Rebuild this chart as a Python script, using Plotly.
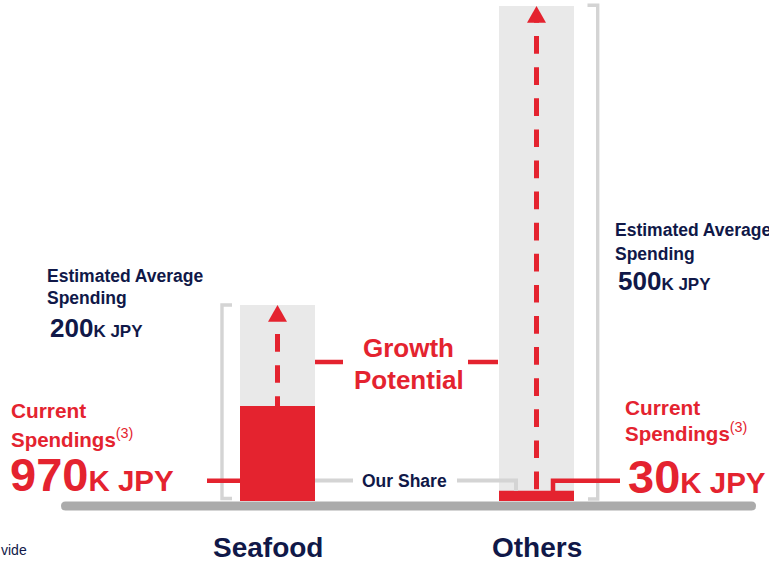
import plotly.graph_objects as go

# ---------------- data ----------------
categories = ["Seafood", "Others"]
estimated_labels = ["200", "500"]          # Estimated Average Spending (K JPY)
potential_height = [198, 500]              # grey bar heights as drawn
current_height = [96, 10.4]                # red bar heights as drawn
current_labels = ["970", "30"]             # Current Spendings (K JPY)

# ---------------- layout constants ----------------
W, H = 769, 563
FONT = "Liberation Sans, Arial, Helvetica, sans-serif"
NAVY = "#101848"
RED = "#e4232f"
BAR_GREY = "#e9e9e9"
LINE_GREY = "#d4d4d4"
BASE_GREY = "#ababab"

PX_PER_UNIT = 0.99        # vertical pixels per value unit
BASE_PX = 501             # pixel row of the value 0
X_UNIT_PX = 259           # pixels between category centres
FIRST_CENTER_PX = 277.5
BAR_W_PX = 75

xr = [-FIRST_CENTER_PX / X_UNIT_PX, (W - FIRST_CENTER_PX) / X_UNIT_PX]
yr = [-(H - BASE_PX) / PX_PER_UNIT, BASE_PX / PX_PER_UNIT]
xpos = list(range(len(categories)))


def px(x):
    return x / W


def py(y):
    return 1 - y / H


fig = go.Figure()

# grey "potential" bars
fig.add_trace(go.Bar(x=xpos, y=potential_height, width=BAR_W_PX / X_UNIT_PX,
                     marker=dict(color=BAR_GREY, line=dict(width=0)),
                     hoverinfo="skip", showlegend=False))
# red "current" bars
fig.add_trace(go.Bar(x=xpos, y=current_height, width=BAR_W_PX / X_UNIT_PX,
                     marker=dict(color=RED, line=dict(width=0)),
                     hoverinfo="skip", showlegend=False))

# dashed growth arrows
dash_start_offset_px = [-8, 1.5]
head_h = 16.7 / PX_PER_UNIT
head_hw = 9.5 / X_UNIT_PX
for i in xpos:
    start = current_height[i] + dash_start_offset_px[i] / PX_PER_UNIT
    head_base = potential_height[i] - head_h
    fig.add_trace(go.Scatter(x=[i, i], y=[start, head_base + 1],
                             mode="lines",
                             line=dict(color=RED, width=5, dash="17.7px,13.4px"),
                             hoverinfo="skip", showlegend=False))
    fig.add_trace(go.Scatter(x=[i - head_hw, i + head_hw, i, i - head_hw],
                             y=[head_base, head_base, potential_height[i], head_base],
                             mode="lines", fill="toself", fillcolor=RED,
                             line=dict(width=0, color=RED),
                             hoverinfo="skip", showlegend=False))

shapes = []


def seg(points, color, width):
    d = "M " + " L ".join(f"{px(a)},{py(b)}" for a, b in points)
    shapes.append(dict(type="path", path=d, xref="paper", yref="paper",
                       line=dict(color=color, width=width), layer="above"))


# brackets
seg([(232, 305), (222, 305), (222, 498.5), (232, 498.5)], LINE_GREY, 3.4)
seg([(587.5, 5.3), (597.7, 5.3), (597.7, 499), (588, 499)], LINE_GREY, 3.4)

# growth potential connectors
seg([(315, 362), (343, 362)], RED, 4.5)
seg([(468, 362), (498, 362)], RED, 4.5)

# our share connectors
seg([(315, 480.5), (353, 480.5)], LINE_GREY, 4)
seg([(457, 480.5), (516, 480.5), (516, 491)], LINE_GREY, 4)

# current spending connectors
seg([(207, 480.7), (240, 480.7)], RED, 4.5)
seg([(553, 491), (553, 480.7), (620, 480.7)], RED, 4.5)

# baseline (rounded)
x0, x1, y0, y1, r = 61, 756, 501.5, 510.5, 4.5
bpath = (f"M {px(x0 + r)},{py(y0)} L {px(x1 - r)},{py(y0)} "
         f"Q {px(x1)},{py(y0)} {px(x1)},{py(y0 + r)} "
         f"Q {px(x1)},{py(y1)} {px(x1 - r)},{py(y1)} "
         f"L {px(x0 + r)},{py(y1)} "
         f"Q {px(x0)},{py(y1)} {px(x0)},{py(y0 + r)} "
         f"Q {px(x0)},{py(y0)} {px(x0 + r)},{py(y0)} Z")
shapes.append(dict(type="path", path=bpath, xref="paper", yref="paper",
                   fillcolor=BASE_GREY, line=dict(width=0), layer="above"))

annotations = []


def ann(text, x, y, size, color, xanchor="left"):
    annotations.append(dict(text=text, x=px(x), y=py(y), xref="paper", yref="paper",
                            xanchor=xanchor, yanchor="middle", showarrow=False,
                            borderpad=0,
                            font=dict(family=FONT, size=size, color=color)))


# estimated average spending labels
ann("<b>Estimated Average</b>", 46, 275.8, 17.5, NAVY)
ann("<b>Spending</b>", 46, 298, 17.5, NAVY)
ann(f"<b><span style='font-size:26px'>{estimated_labels[0]}</span>K JPY</b>", 49, 327.5, 17, NAVY)
ann("<b>Estimated Average</b>", 614, 230, 17.5, NAVY)
ann("<b>Spending</b>", 614, 254, 17.5, NAVY)
ann(f"<b><span style='font-size:26px'>{estimated_labels[1]}</span>K JPY</b>", 617, 281, 17, NAVY)

# current spendings labels
ann("<b>Current</b>", 10, 410.8, 20.8, RED)
ann("<b>Spendings</b><sup>(3)</sup>", 10, 437.5, 20.5, RED)
ann(f"<b><span style='font-size:47px'>{current_labels[0]}</span>K JPY</b>", 9, 474, 29.5, RED)
ann("<b>Current</b>", 624, 407.5, 20.8, RED)
ann("<b>Spendings</b><sup>(3)</sup>", 624, 432, 20.5, RED)
ann(f"<b><span style='font-size:47px'>{current_labels[1]}</span>K JPY</b>", 627, 476.7, 29.5, RED)

# middle labels
ann("<b>Growth</b>", 408.7, 347.5, 26, RED, "center")
ann("<b>Potential</b>", 408.7, 380, 26, RED, "center")
ann("<b>Our Share</b>", 404.7, 480.7, 17.5, NAVY, "center")

# category labels
ann(f"<b>{categories[0]}</b>", 268, 547, 28, NAVY, "center")
ann(f"<b>{categories[1]}</b>", 537, 547, 28, NAVY, "center")

# clipped footnote fragment
ann("vide", 0, 550, 14, NAVY)

fig.update_layout(
    width=W, height=H,
    margin=dict(l=0, r=0, t=0, b=0),
    paper_bgcolor="white", plot_bgcolor="white",
    barmode="overlay", showlegend=False,
    xaxis=dict(range=xr, visible=False, fixedrange=True),
    yaxis=dict(range=yr, visible=False, fixedrange=True),
    shapes=shapes, annotations=annotations,
)

fig.write_html("out.html")
